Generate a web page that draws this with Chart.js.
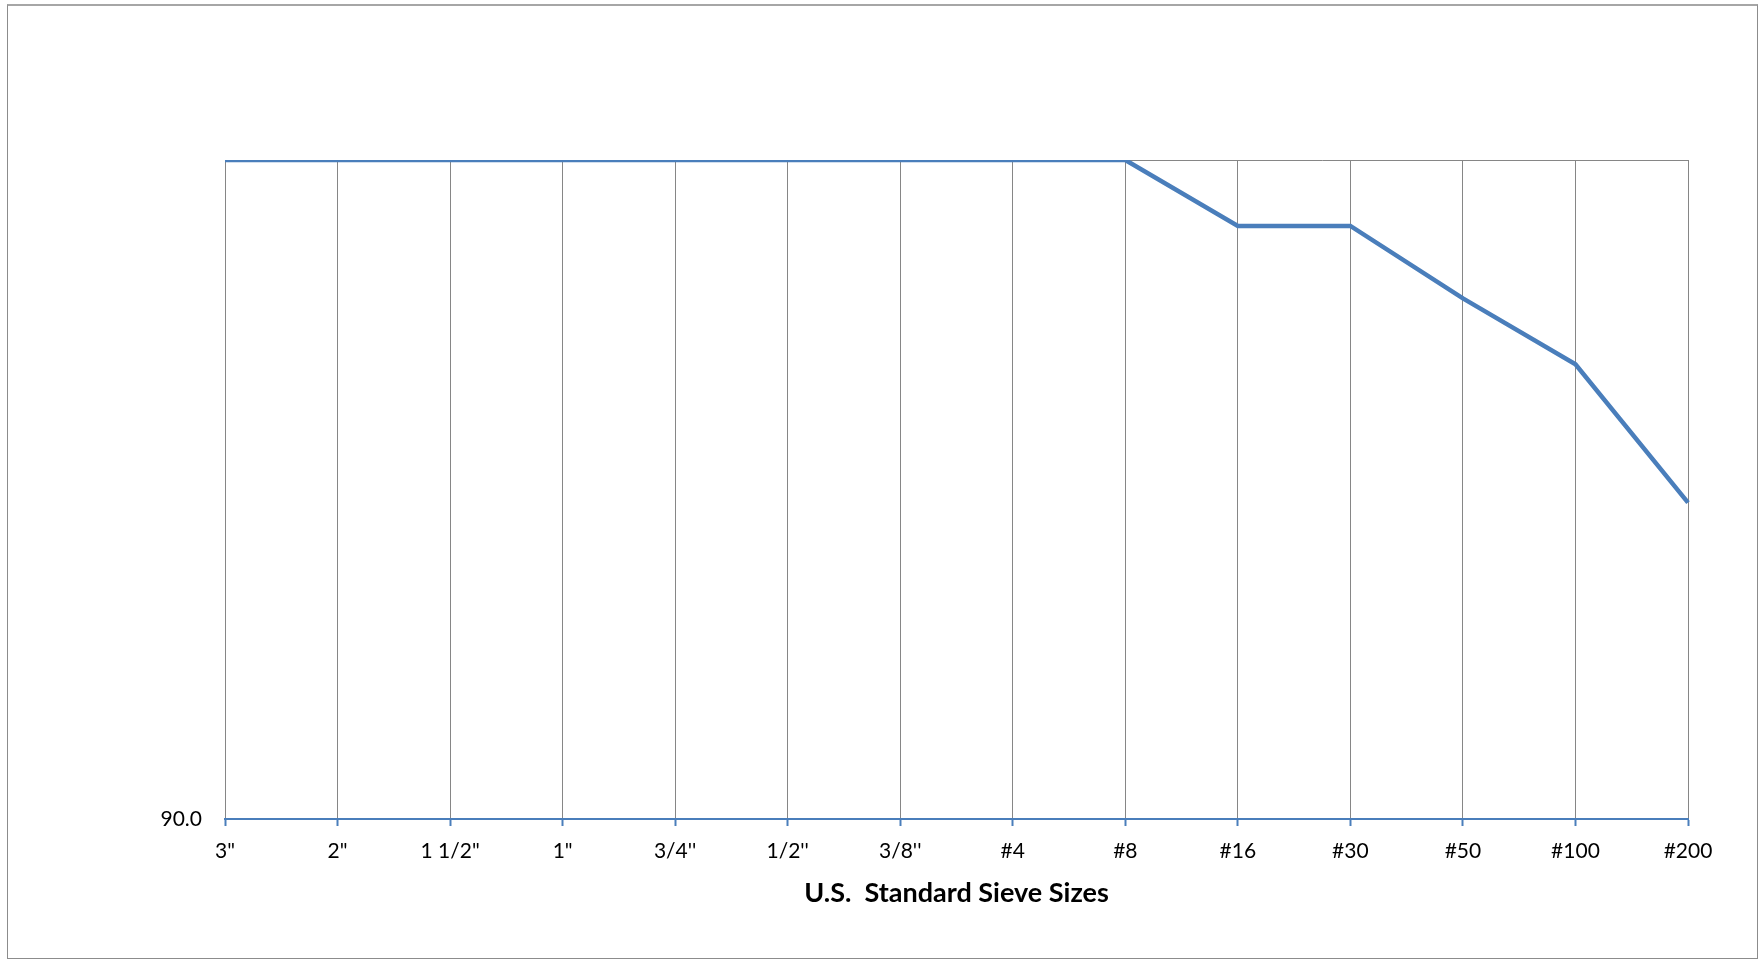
<!DOCTYPE html>
<html>
<head>
<meta charset="utf-8">
<script src="https://cdn.jsdelivr.net/npm/chart.js@4.4.1/dist/chart.umd.min.js"></script>
<style>
    body { margin: 0; background: #fff; }
    #wrap { position: relative; width: 1759px; height: 959px; }
    #marco { position: absolute; left: 7px; top: 4px; width: 1749px; height: 952px; border: 1px solid #8c8c8c; border-top: 2px solid #a6a6a6; pointer-events: none; }
</style>
</head>
<body>
<div id="wrap">
    <canvas id="grafica" width="1759" height="959"></canvas>
    <div id="marco"></div>
</div>
<script>
// Datos
var sieveSizes = ['3"', '2"', '1 1/2"', '1"', "3/4''", "1/2''", "3/8''", '#4', '#8', '#16', '#30', '#50', '#100', '#200'];
var percentPassing = [100, 100, 100, 100, 100, 100, 100, 100, 100, 99.0, 99.0, 97.9, 96.9, 94.8];
var yMin = 90;
var yMax = 100;
var xTitle = 'U.S.  Standard Sieve Sizes';

var azul = '#4a7ebb';
var gris = '#868686';

var ctx = document.getElementById('grafica').getContext('2d');
new Chart(ctx, {
    type: 'line',
    data: {
        labels: sieveSizes,
        datasets: [{
            data: percentPassing,
            borderColor: azul,
            borderWidth: 4.5,
            pointRadius: 0,
            tension: 0,
            fill: false
        }]
    },
    options: {
        responsive: false,
        animation: false,
        layout: { padding: { left: 0, right: 71, top: 160, bottom: 0 } },
        plugins: { legend: { display: false }, tooltip: { enabled: false } },
        scales: {
            x: {
                offset: false,
                border: { display: true, color: azul, width: 2 },
                grid: { color: gris, lineWidth: 1, tickColor: azul, tickLength: 7, tickWidth: 2 },
                ticks: { color: '#000', font: { family: 'Lato', size: 21 }, padding: 13, maxRotation: 0, autoSkip: false },
                title: {
                    display: true,
                    text: xTitle,
                    color: '#000',
                    font: { family: 'Lato', size: 27, weight: 'bold' },
                    padding: { top: 0, bottom: 50 }
                },
                afterFit: function (scale) { scale.height = 140; }
            },
            y: {
                min: yMin,
                max: yMax,
                border: { display: false },
                grid: {
                    drawTicks: false,
                    lineWidth: 1,
                    color: function (c) { return c.tick && c.tick.value === yMax ? gris : 'rgba(0,0,0,0)'; }
                },
                ticks: {
                    stepSize: 10,
                    padding: 23,
                    color: '#000',
                    font: { family: 'Lato', size: 21 },
                    callback: function (v) { return v === yMin ? v.toFixed(1) : ''; }
                },
                afterFit: function (scale) { scale.width = 225; }
            }
        }
    }
});
</script>
</body>
</html>
